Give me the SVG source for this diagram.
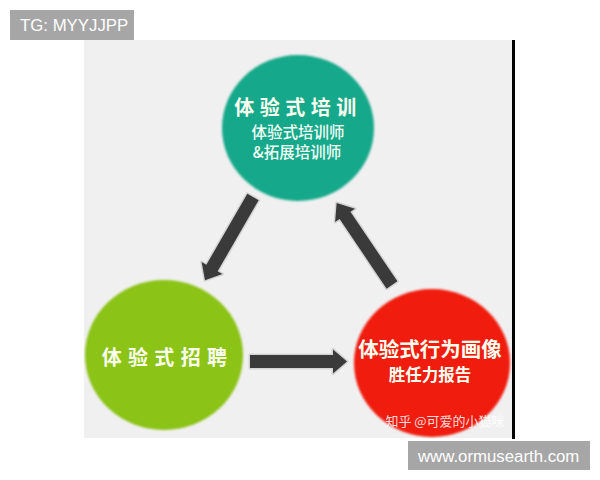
<svg xmlns="http://www.w3.org/2000/svg" width="600" height="480" viewBox="0 0 600 480">
<defs>
<style>
.cjk{font-family:"Noto Sans CJK SC","Noto Sans",sans-serif;fill:#fbfff0;font-weight:bold;text-anchor:middle}
.sub{font-family:"Noto Sans CJK SC","Noto Sans",sans-serif;fill:#f4fff8;font-weight:500;text-anchor:middle}
.tag{font-family:"Liberation Sans","DejaVu Sans",sans-serif;font-size:16.8px;fill:#ffffff}
.arrow{fill:#3a3a3a;stroke:#d4d4d4;stroke-width:3;stroke-linejoin:round;paint-order:stroke}
</style>
<filter id="soft" x="-10%" y="-10%" width="120%" height="120%"><feGaussianBlur stdDeviation="1"/></filter>
</defs>
<rect width="600" height="480" fill="#ffffff"/>
<rect x="84" y="40" width="429" height="398" fill="#f0f0f0"/>
<rect x="512" y="40" width="3" height="399" fill="#000000"/>

<g id="connectors">
<polygon class="arrow" transform="translate(253,197) rotate(120)" points="0,-6.5 82,-6.5 82,-12 96,0 82,12 82,6.5 0,6.5"/>
<polygon class="arrow" transform="translate(392,285) rotate(-124)" points="0,-6.5 84,-6.5 84,-12 99,0 84,12 84,6.5 0,6.5"/>
<polygon class="arrow" transform="translate(250,361.5)" points="0,-6.5 83,-6.5 83,-12 97,0 83,12 83,6.5 0,6.5"/>
</g>

<g id="node-training">
<ellipse cx="298" cy="128" rx="76" ry="73" fill="#15a88a" filter="url(#soft)"/>
<text class="cjk" x="298" y="115" font-size="20" letter-spacing="5.5">体验式培训</text>
<text class="sub" x="298" y="138" font-size="15.5">体验式培训师</text>
<text class="sub" x="297" y="158" font-size="15.5">&amp;拓展培训师</text>
</g>

<g id="node-recruit">
<ellipse cx="164" cy="355" rx="79" ry="75" fill="#8bc315" filter="url(#soft)"/>
<text class="cjk" x="167.5" y="365" font-size="20" letter-spacing="6.3" fill="#f4fad8">体验式招聘</text>
</g>

<g id="node-report">
<ellipse cx="432" cy="363" rx="78" ry="74" fill="#f01c0c" filter="url(#soft)"/>
<text class="cjk" x="430" y="357" font-size="20.5">体验式行为画像</text>
<text class="cjk" x="430" y="381" font-size="16.5">胜任力报告</text>
<text x="445" y="426" font-family="Noto Sans CJK SC, sans-serif" font-size="13" fill="#ffffff" fill-opacity="0.85" text-anchor="middle">知乎 @可爱的小猫咪</text>
</g>

<g id="tag-top">
<rect x="10" y="10" width="124" height="30" fill="#a6a6a6"/>
<text class="tag" x="20" y="31">TG: MYYJJPP</text>
</g>
<g id="tag-bottom">
<rect x="408" y="441" width="182" height="29" fill="#a6a6a6"/>
<text class="tag" x="418" y="462">www.ormusearth.com</text>
</g>
</svg>
